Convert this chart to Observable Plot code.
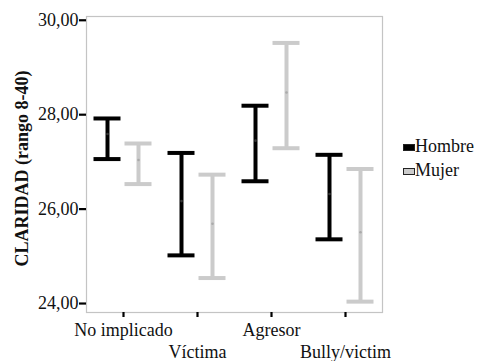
<!DOCTYPE html>
<html>
<head>
<meta charset="utf-8">
<script src="https://cdn.jsdelivr.net/npm/d3@7"></script>
<script src="https://cdn.jsdelivr.net/npm/@observablehq/plot@0.6"></script>
<style>
  body { margin: 0; background: #fff; }
  #wrap { position: relative; width: 482px; height: 361px; }
  #wrap, #wrap div, #wrap svg, #wrap text { font-family: 'Liberation Serif' !important; }
  #legend { position: absolute; left: 403px; top: 134px; font-size: 18px; line-height: 24px; color: #111; }
  .sw { display: inline-block; width: 12px; height: 7px; margin-right: 0; vertical-align: 1px; box-sizing: border-box; }
</style>
</head>
<body>
<div id="wrap"></div>
<script>
const categories = ["No implicado", "Víctima", "Agresor", "Bully/victim"];
const sexes = ["Hombre", "Mujer"];
const hombreMean = [27.59, 26.17, 27.45, 26.32];
const hombreLow  = [27.06, 25.02, 26.59, 25.36];
const hombreHigh = [27.92, 27.19, 28.19, 27.15];
const mujerMean  = [27.04, 25.69, 28.47, 25.51];
const mujerLow   = [26.53, 24.54, 27.29, 24.04];
const mujerHigh  = [27.39, 26.73, 29.52, 26.85];
const yTicks = [24, 26, 28, 30];
const colors = ["#000000", "#cbcbcb"];

const hombre = categories.map((c, i) => ({cat: c, sex: "Hombre", mean: hombreMean[i], lo: hombreLow[i], hi: hombreHigh[i]}));
const mujer  = categories.map((c, i) => ({cat: c, sex: "Mujer", mean: mujerMean[i], lo: mujerLow[i], hi: mujerHigh[i]}));

function bars(data, color, dx, meanColor) {
  return [
    Plot.ruleX(data, {x: "cat", y1: "lo", y2: "hi", stroke: color, strokeWidth: 4, dx}),
    Plot.tickY(data, {x: "cat", y: "lo", stroke: color, strokeWidth: 4, dx, inset: 23.5}),
    Plot.tickY(data, {x: "cat", y: "hi", stroke: color, strokeWidth: 4, dx, inset: 23.5}),
    Plot.dot(data, {x: "cat", y: "mean", r: 1.3, fill: meanColor, dx})
  ];
}

const fmt = d => d.toFixed(2).replace(".", ",");
const FONT = "Liberation Serif";

const chart = Plot.plot({
  width: 482,
  height: 361,
  marginLeft: 86,
  marginRight: 100,
  marginTop: 16,
  marginBottom: 49,
  style: {fontFamily: FONT, fontSize: "18px", color: "#111", background: "#fff"},
  x: {type: "band", domain: categories, padding: 0},
  y: {domain: [23.81, 30.08]},
  marks: [
    Plot.frame({stroke: "#c4c4c4", strokeWidth: 1.2}),
    ...bars(hombre, colors[0], -16, "#333"),
    ...bars(mujer, colors[1], 15, "#aaa"),
    Plot.axisY(yTicks, {tickSize: 7, tickPadding: 1, tickFormat: fmt, stroke: "#000", strokeWidth: 2.2, label: null, fontFamily: FONT, fontSize: 18}),
    Plot.axisX({tickSize: 5, tickFormat: () => "", stroke: "#000", strokeWidth: 2.2, label: null}),
    Plot.axisX(categories.filter((d, i) => i % 2 === 0), {tickSize: 0, tickPadding: 11, label: null, fontFamily: FONT, fontSize: 18}),
    Plot.axisX(categories.filter((d, i) => i % 2 === 1), {tickSize: 0, tickPadding: 33, label: null, fontFamily: FONT, fontSize: 18}),
    Plot.text(["CLARIDAD (rango 8-40)"], {frameAnchor: "left", textAnchor: "middle", dx: -64, dy: 4, rotate: -90, fontWeight: "bold", fontSize: 18, fill: "#111", fontFamily: FONT})
  ]
});

const wrap = document.getElementById("wrap");
wrap.appendChild(chart);
const legend = document.createElement("div");
legend.id = "legend";
legend.innerHTML = sexes.map((s, i) =>
  `<div><span class="sw" style="background:${colors[i]};border:1px solid #222"></span>${s}</div>`).join("");
wrap.appendChild(legend);
</script>
</body>
</html>
